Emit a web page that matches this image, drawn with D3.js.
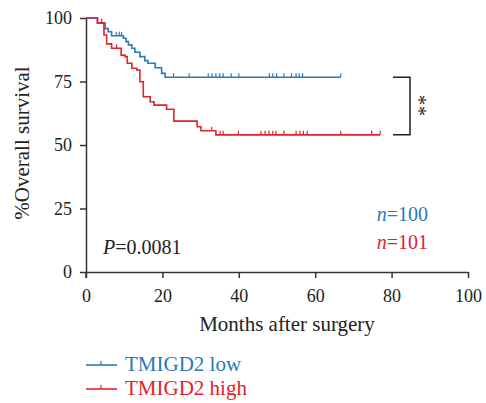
<!DOCTYPE html>
<html>
<head>
<meta charset="utf-8">
<script src="https://cdn.jsdelivr.net/npm/d3@7"></script>
<style>
  body { margin: 0; background: #fff; }
  svg text { font-family: "Liberation Serif", "DejaVu Serif", serif; }
</style>
</head>
<body>
<div id="chart"></div>
<script>
// KM steps: [month, % survival]
var lowSteps = [[0,100],[3.0,98.0],[5.0,95.8],[5.8,94.6],[6.7,93.0],[9.8,92.0],[10.5,90.7],[11.1,89.4],
  [12.0,88.1],[12.8,86.5],[14.1,84.8],[15.4,83.2],[16.2,82.2],[18.1,80.4],[19.8,78.2],[20.7,76.7]];
var lowCensor = [7.9,8.7,9.3,22.9,27.0,32.0,33.0,34.0,35.0,35.9,38.0,40.0,48.0,48.9,49.9,51.8,53.8,55.0,55.8,56.7,66.7];

var highSteps = [[0,100],[3.0,98.1],[4.7,93.3],[5.4,89.8],[6.7,88.1],[9.2,85.4],[10.2,84.8],[10.8,82.2],
  [12.0,80.2],[13.3,79.5],[14.1,74.9],[15.0,69.0],[16.8,67.0],[17.8,65.7],[21.1,64.1],[23.0,59.4],
  [29.1,57.2],[30.1,55.6],[34.0,54.0]];
var highCensor = [4.1,8.0,32.9,35.1,35.9,39.9,45.8,46.9,47.9,48.9,49.7,51.8,55.0,56.0,56.9,57.9,66.7,74.8,77.0];

var xTicks = [0,20,40,60,80,100];
var yTicks = [0,25,50,75,100];
var groups = ["TMIGD2 low", "TMIGD2 high"];
var counts = [100, 101];
var colors = ["#2a78bd", "#e2222b"];
var pText = "0.0081";

var svg = d3.select("#chart").append("svg")
  .attr("width", 486).attr("height", 403);

var x = d3.scaleLinear().domain([0,100]).range([86,468]);
var y = d3.scaleLinear().domain([0,100]).range([272,18]);

// axes
var xAxis = svg.append("g").attr("transform", "translate(0,272)")
  .call(d3.axisBottom(x).tickValues(xTicks).tickSize(6).tickSizeOuter(0).tickPadding(11));
var yAxis = svg.append("g").attr("transform", "translate(86,0)")
  .call(d3.axisLeft(y).tickValues(yTicks).tickSize(6).tickSizeOuter(0).tickPadding(8));

[xAxis, yAxis].forEach(function(ax) {
  ax.attr("font-family", null).attr("font-size", null);
  ax.select(".domain").attr("stroke", "#333").attr("stroke-width", 1.5);
  ax.selectAll(".tick line").attr("stroke", "#333").attr("stroke-width", 1.5);
  ax.selectAll(".tick text").attr("font-size", 18).attr("fill", "#222");
});
// the y axis runs a little below the x axis
svg.append("line").attr("x1", 86).attr("x2", 86).attr("y1", 272).attr("y2", 278)
  .attr("stroke", "#333").attr("stroke-width", 1.5);

svg.append("text")
  .attr("x", 287).attr("y", 331)
  .attr("text-anchor", "middle").attr("font-size", 21).attr("fill", "#222")
  .text("Months after surgery");

svg.append("text")
  .attr("transform", "translate(29,143) rotate(-90)")
  .attr("text-anchor", "middle").attr("font-size", 21).attr("fill", "#222")
  .text("%Overall survival");

// survival at time t (step function)
function survAt(steps, t) {
  var s = steps[0][1];
  steps.forEach(function(d) { if (d[0] <= t) s = d[1]; });
  return s;
}

function drawCurve(steps, censor, color) {
  var end = d3.max(censor);
  var pts = steps.concat([[end, steps[steps.length-1][1]]]);
  var line = d3.line()
    .x(function(d) { return x(d[0]); })
    .y(function(d) { return y(d[1]); })
    .curve(d3.curveStepAfter);
  svg.append("path").datum(pts)
    .attr("d", line).attr("fill", "none")
    .attr("stroke", color).attr("stroke-width", 1.6);
  svg.selectAll(null).data(censor).enter()
    .append("line")
    .attr("x1", function(d) { return x(d); })
    .attr("x2", function(d) { return x(d); })
    .attr("y1", function(d) { return y(survAt(steps, d)); })
    .attr("y2", function(d) { return y(survAt(steps, d)) - 4; })
    .attr("stroke", color).attr("stroke-width", 1.2);
}

drawCurve(lowSteps, lowCensor, colors[0]);
drawCurve(highSteps, highCensor, colors[1]);

// significance bracket
var yLow = y(d3.min(lowSteps, function(d) { return d[1]; }));
var yHigh = y(d3.min(highSteps, function(d) { return d[1]; }));
svg.append("path")
  .attr("d", "M393," + yLow + "H410V" + yHigh + "H393")
  .attr("fill", "none").attr("stroke", "#222").attr("stroke-width", 1.5);
svg.append("text")
  .attr("transform", "translate(412," + ((yLow + yHigh) / 2) + ") rotate(90)")
  .attr("text-anchor", "middle").attr("font-size", 20).attr("letter-spacing", 1)
  .attr("fill", "#222")
  .text("**");

// n labels
counts.forEach(function(n, i) {
  var t = svg.append("text")
    .attr("x", 428).attr("y", 221 + i * 28)
    .attr("text-anchor", "end").attr("font-size", 20).attr("fill", colors[i]);
  t.append("tspan").attr("font-style", "italic").text("n");
  t.append("tspan").text("=" + n);
});

var p = svg.append("text").attr("x", 103).attr("y", 254)
  .attr("font-size", 20).attr("fill", "#222");
p.append("tspan").attr("font-style", "italic").text("P");
p.append("tspan").text("=" + pText);

// legend
groups.forEach(function(g, i) {
  var ly = 365 + i * 24;
  svg.append("line").attr("x1", 86).attr("x2", 117).attr("y1", ly).attr("y2", ly)
    .attr("stroke", colors[i]).attr("stroke-width", 1.6);
  svg.append("line").attr("x1", 101).attr("x2", 101).attr("y1", ly).attr("y2", ly - 4)
    .attr("stroke", colors[i]).attr("stroke-width", 1.2);
  svg.append("text").attr("x", 125).attr("y", ly + 6)
    .attr("font-size", 21).attr("fill", colors[i]).text(g);
});
</script>
</body>
</html>
